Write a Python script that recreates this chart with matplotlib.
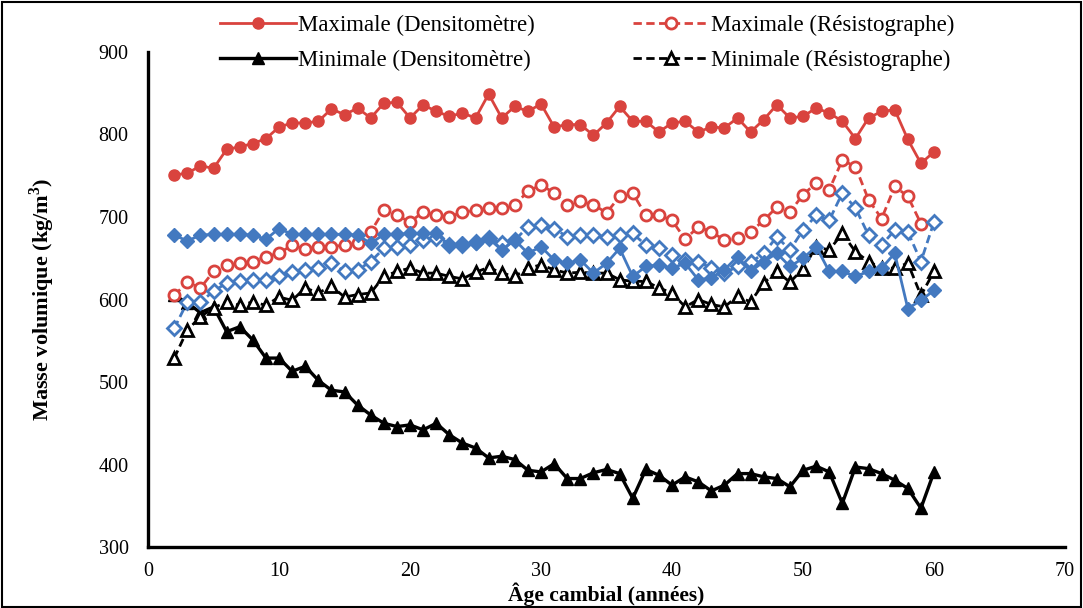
import matplotlib
matplotlib.use("Agg")
import matplotlib.pyplot as plt
import numpy as np
from matplotlib.patches import Rectangle

# cambial age (years)
age = np.arange(2, 61)

# wood density (kg/m3) per ring
max_densito = [751, 753, 762, 759, 782, 785, 789, 795, 809, 814, 814, 816, 831, 824, 832, 820, 838, 839, 820, 836,
               828, 822, 826, 820, 849, 820, 834, 828, 837, 809, 812, 812, 799, 814, 834, 816, 816, 803, 814, 816,
               803, 809, 808, 820, 803, 818, 836, 820, 822, 832, 826, 816, 795, 820, 828, 830, 794, 765, 779]
max_resisto = [605, 621, 614, 634, 642, 644, 646, 652, 656, 666, 661, 664, 664, 666, 668, 682, 708, 702, 694, 706,
               702, 700, 706, 708, 711, 711, 715, 731, 739, 729, 715, 719, 715, 705, 725, 729, 702, 702, 696, 673,
               688, 682, 672, 674, 682, 696, 712, 706, 727, 741, 733, 769, 761, 721, 698, 737, 725, 692]
min_densito = [605, 596, 584, 591, 561, 567, 551, 529, 529, 513, 519, 502, 490, 488, 472, 460, 450, 446, 448, 442,
               450, 436, 426, 420, 408, 410, 406, 393, 391, 401, 383, 383, 390, 394, 389, 359, 394, 387, 375, 385,
               379, 368, 375, 389, 389, 385, 383, 373, 393, 398, 391, 353, 397, 395, 389, 381, 371, 347, 391]
min_resisto = [529, 563, 579, 590, 597, 593, 597, 593, 603, 599, 614, 608, 616, 603, 606, 608, 628, 634, 638, 632,
               632, 628, 625, 633, 639, 632, 628, 638, 642, 636, 632, 633, 632, 632, 624, 622, 622, 614, 608, 591,
               600, 594, 591, 604, 597, 620, 634, 621, 637, 664, 660, 680, 658, 646, 638, 638, 644, 605, 634]
moy_densito = [678, 671, 678, 679, 679, 679, 678, 673, 686, 679, 679, 679, 679, 679, 678, 668, 679, 679, 680, 680,
               680, 666, 668, 668, 674, 660, 672, 656, 664, 648, 644, 648, 632, 644, 662, 628, 640, 642, 638, 644,
               624, 626, 636, 652, 634, 646, 656, 640, 650, 664, 634, 634, 628, 634, 638, 656, 589, 599, 611]
moy_resisto = [565, 597, 597, 610, 620, 622, 624, 624, 628, 633, 636, 638, 644, 634, 636, 646, 662, 664, 666, 672,
               675, 666, 666, 670, 674, 668, 672, 688, 690, 686, 676, 678, 678, 676, 678, 680, 666, 662, 654, 648,
               646, 638, 632, 640, 645, 656, 676, 660, 684, 702, 696, 729, 711, 678, 666, 684, 682, 646, 694]

RED = "#D9433E"
BLUE = "#4379C0"
DASH = (0, (3, 1.6))

plt.rcParams["font.family"] = ["Liberation Serif", "DejaVu Serif"]

fig = plt.figure(figsize=(10.83, 6.08), dpi=100)
ax = fig.add_axes([0.1367, 0.1003, 0.8467, 0.8142])

ax.plot(age, max_densito, color=RED, lw=2, marker="o", ms=8, mec=RED,
        label="Maximale (Densitomètre)", zorder=3)
ax.plot(age, min_densito, color="black", lw=2.4, marker="^", ms=8.5,
        label="Minimale (Densitomètre)", zorder=2)
ax.plot(age[:len(max_resisto)], max_resisto, color=RED, lw=2, ls=DASH, marker="o", ms=8,
        mfc="white", mec=RED, mew=2, label="Maximale (Résistographe)", zorder=3)
ax.plot(age, min_resisto, color="black", lw=2, ls=DASH, marker="^", ms=8,
        mfc="white", mec="black", mew=2, label="Minimale (Résistographe)", zorder=3)
ax.plot(age, moy_resisto, color=BLUE, lw=2, ls=DASH, marker="D", ms=7,
        mfc="white", mec=BLUE, mew=2, label="_nolegend_", zorder=3)
ax.plot(age, moy_densito, color=BLUE, lw=2, marker="D", ms=7.5, mec=BLUE,
        label="_nolegend_", zorder=4)

ax.set_xlim(0, 70)
ax.set_ylim(300, 900)
ax.set_xticks(range(0, 71, 10))
ax.set_yticks(range(300, 901, 100))
ax.tick_params(length=0, labelsize=14.5, pad=14)
ax.tick_params(axis="x", pad=11)
for side in ("top", "right"):
    ax.spines[side].set_visible(False)
for side in ("left", "bottom"):
    ax.spines[side].set_linewidth(2.4)

ax.set_xlabel("Âge cambial (années)", fontsize=15.5, fontweight="bold", labelpad=1)
ax.set_ylabel("Masse volumique (kg/m$^\\mathregular{3}$)", fontsize=16, fontweight="bold", labelpad=30)

handles, labels = ax.get_legend_handles_labels()
fig.legend(handles, labels, ncol=2, frameon=False,
           loc="upper left", bbox_to_anchor=(0.184, 1.01), fontsize=16.5,
           handlelength=3.3, handletextpad=0.1, columnspacing=4.3, labelspacing=0.62)

# border around the whole figure
fig.patches.append(Rectangle((0.002, 0.002), 0.996, 0.995, transform=fig.transFigure,
                             fill=False, edgecolor="black", lw=1.5))

fig.savefig("out.png", dpi=100)
